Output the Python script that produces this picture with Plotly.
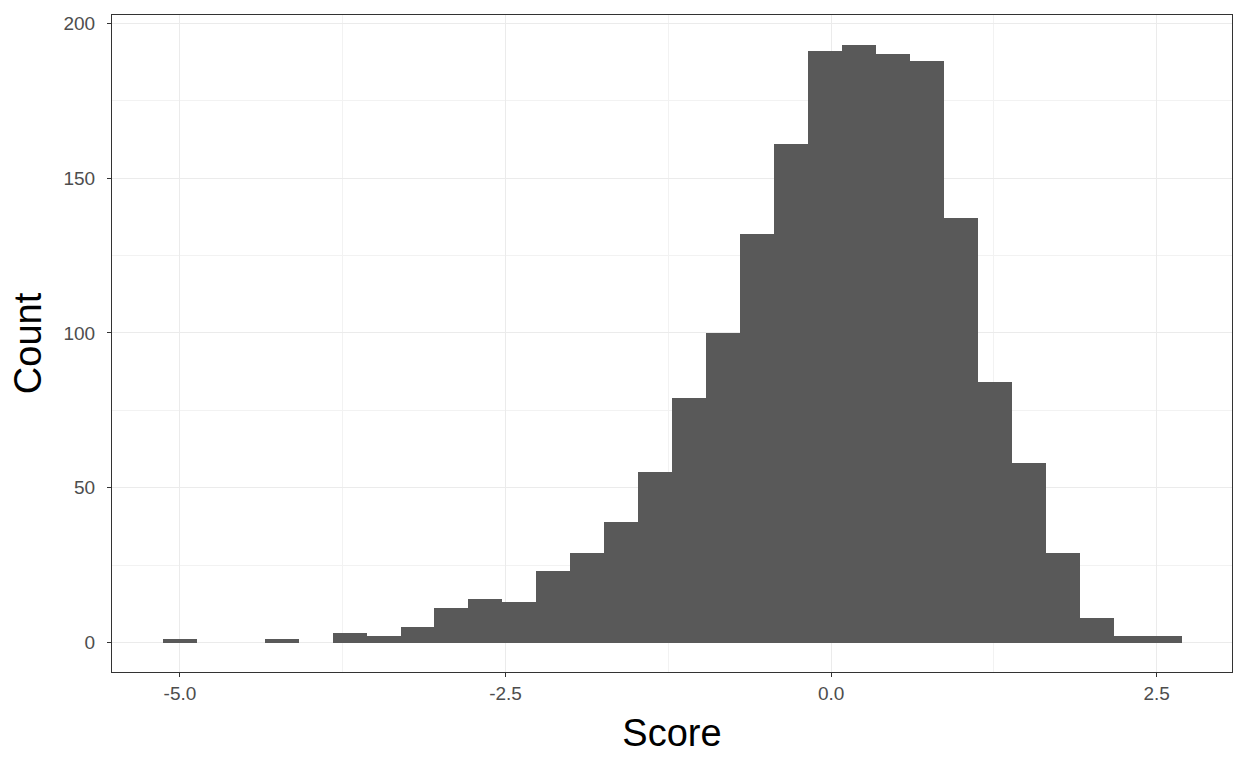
import plotly.graph_objects as go

bin_start = -5.133
bin_width = 0.2609
counts = [1, 0, 0, 1, 0, 3, 2, 5, 11, 14, 13, 23, 29, 39, 55, 79, 100, 132,
          161, 191, 193, 190, 188, 137, 84, 58, 29, 8, 2, 2]
x_tickvals = [-5.0, -2.5, 0.0, 2.5]
x_ticktext = ["-5.0", "-2.5", "0.0", "2.5"]
y_tickvals = [0, 50, 100, 150, 200]
y_ticktext = ["0", "50", "100", "150", "200"]

centers = [bin_start + bin_width * (i + 0.5) for i in range(len(counts))]

fig = go.Figure(go.Bar(x=centers, y=counts, width=[bin_width] * len(counts),
                       marker=dict(color="#595959", line=dict(width=0)),
                       hoverinfo="x+y"))

axis_common = dict(
    showline=True, linecolor="#333333", linewidth=1, mirror=True,
    ticks="outside", ticklen=4, tickcolor="#333333", tickwidth=1,
    gridcolor="#EBEBEB", gridwidth=1.3, zeroline=False,
    tickfont=dict(family="Liberation Sans, Arial, sans-serif", size=19, color="#4D4D4D"),
    title_font=dict(family="Liberation Sans, Arial, sans-serif", size=38, color="#000000"),
)

fig.update_layout(
    width=1248, height=768,
    margin=dict(l=112, r=16, t=15, b=96),
    paper_bgcolor="white", plot_bgcolor="white",
    bargap=0, showlegend=False,
    xaxis=dict(range=[-5.522, 3.078], tickvals=x_tickvals, ticktext=x_ticktext,
               title=dict(text="Score", standoff=16),
               minor=dict(tickvals=[-3.75, -1.25, 1.25], showgrid=True,
                          gridcolor="#F2F2F2", gridwidth=0.7, ticks=""),
               **axis_common),
    yaxis=dict(range=[-9.53, 202.7], tickvals=y_tickvals, ticktext=y_ticktext,
               title=dict(text="Count", standoff=10), ticklabelstandoff=8,
               minor=dict(tickvals=[25, 75, 125, 175], showgrid=True,
                          gridcolor="#F2F2F2", gridwidth=0.7, ticks=""),
               **axis_common),
)

fig.write_html("out.html", config={"displayModeBar": False},
               post_script="document.body.style.margin='0';document.body.style.overflow='hidden';")
